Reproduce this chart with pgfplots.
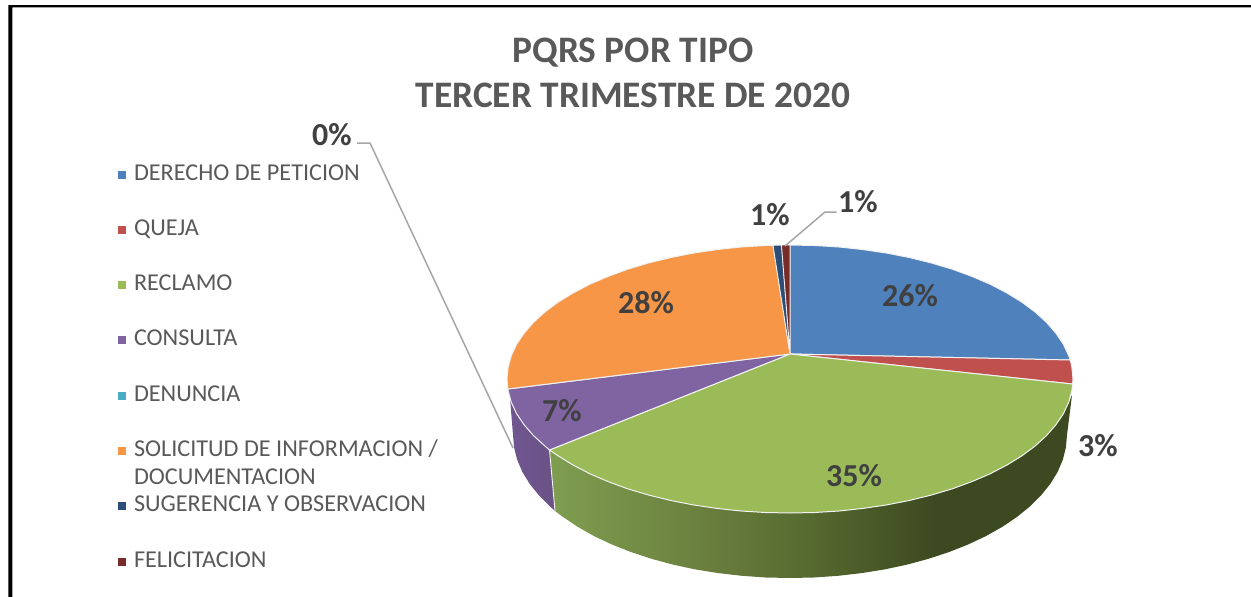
\documentclass[border=0pt]{standalone}
\usepackage{fontspec}
\setmainfont{Carlito}
\usepackage{pgfplots}
\pgfplotsset{compat=1.18}
\definecolor{cBlue}{HTML}{4F81BD}
\definecolor{cRed}{HTML}{C0504D}
\definecolor{cGreen}{HTML}{9BBB59}
\definecolor{cPurple}{HTML}{8064A2}
\definecolor{cTeal}{HTML}{4BACC6}
\definecolor{cOrange}{HTML}{F79646}
\definecolor{cNavy}{HTML}{2C4D75}
\definecolor{cMaroon}{HTML}{772C2A}
\definecolor{titleGrey}{HTML}{595959}
\definecolor{labelGrey}{HTML}{404040}
\definecolor{leaderGrey}{HTML}{A6A6A6}
\definecolor{edge}{HTML}{F2F2F2}
\definecolor{sideA}{HTML}{7F9E50}
\definecolor{sideB}{HTML}{6A7F3E}
\definecolor{sideC}{HTML}{56692F}
\definecolor{sideD}{HTML}{3D4921}
\definecolor{purpA}{HTML}{6F5690}
\definecolor{purpB}{HTML}{6A5285}
\pgfdeclarehorizontalshading{greenside}{100bp}{color(0bp)=(sideA);
  color(25bp)=(sideA); color(40bp)=(sideB); color(50bp)=(sideC); color(62bp)=(sideD); color(100bp)=(sideD)}
\pgfdeclarehorizontalshading{purpleside}{100bp}{color(0bp)=(purpA);
  color(25bp)=(purpA); color(75bp)=(purpB); color(100bp)=(purpB)}
\newcommand{\ttl}{\fontsize{37.4}{45}\selectfont\bfseries\color{titleGrey}}
\newcommand{\lab}{\fontsize{32}{34}\selectfont\bfseries\color{labelGrey}}
\begin{document}
\begin{tikzpicture}
\begin{axis}[
  scale only axis, width=1251pt, height=597pt,
  xmin=0, xmax=1251, ymin=0, ymax=597, y dir=reverse,
  hide axis,
  legend style={at={(axis cs:118,163)},anchor=north west,draw=none,fill=none,inner sep=0pt,outer sep=0pt,
    font=\fontsize{24.2}{26}\selectfont\color{titleGrey},
    row sep=32.3pt,column sep=8pt,
    nodes={inner sep=0pt,text height=17pt,text depth=6pt}},
  legend cell align={left},
  legend image code/.code={\fill[#1,draw=none] (0pt,-4pt) rectangle (8pt,4pt);},
]
% keeps the page at the full axis size
\addplot[draw=none,forget plot] coordinates {(0,0) (1251,597)};
% frame
\addplot[fill=black,draw=none,forget plot] coordinates {(8.3,5) (1251,5) (1251,7.3) (12.3,7.3) (12.3,597) (8.3,597)} -- cycle;
% side walls
\addplot[shading=greenside,draw=none,forget plot] coordinates {
  (1072,395) (1068.7,402.3) (1063.4,413.7) (1055.9,424.8) (1046.5,435.6) (1035.1,446) (1021.8,455.9) (1006.8,465.1)
  (990.1,473.8) (971.9,481.6) (952.3,488.8) (931.5,495) (909.6,500.4) (886.8,504.9) (863.2,508.4) (839.1,511)
  (814.7,512.5) (790,513) (765.3,512.5) (740.9,511) (716.8,508.4) (693.2,504.9) (670.4,500.4) (648.5,495)
  (627.7,488.8) (608.1,481.6) (589.9,473.8) (573.2,465.1) (558.2,455.9) (549.5,450)
  (555,511) (563.1,517) (577.8,526.9) (594.1,536.1) (611.9,544.5) (631.1,552.1) (651.5,558.8) (672.9,564.6)
  (695.3,569.4) (718.3,573.1) (741.9,575.8) (765.9,577.5) (790,578) (814.1,577.5) (838.1,575.8) (861.7,573.1)
  (884.7,569.4) (907.1,564.6) (928.5,558.8) (948.9,552.1) (968.1,544.5) (985.9,536.1) (1002.2,526.9) (1016.9,517)
  (1029.9,506.5) (1041,495.4) (1050.3,483.9) (1057.6,472) (1062.8,459.8) (1065.9,447.5) (1067,435)
} -- cycle;
\addplot[shading=purpleside,draw=none,forget plot] coordinates {
  (549.5,450) (544.9,446) (533.5,435.6) (524.1,424.8) (516.6,413.7) (511.3,402.3) (510,398)
  (513,435) (514.1,447.5) (517.2,459.8) (522.4,472) (529.7,483.9) (539,495.4) (550.1,506.5) (555,511)
} -- cycle;
\addplot[edge,line width=0.9pt,forget plot] coordinates {(549.5,450) (555,511)};
% top wedges, legend order
\addplot[fill=cBlue,draw=edge,line width=1pt] coordinates {
  (790,354) (790,245) (814.7,245.5) (839.1,247) (863.2,249.6) (886.8,253.1) (909.6,257.6) (931.5,263) (952.3,269.2)
  (971.9,276.4) (990.1,284.2) (1006.8,292.9) (1021.8,302.1) (1035.1,312) (1046.5,322.4) (1055.9,333.2) (1063.4,344.3)
  (1068.7,355.7) (1070.3,360)
} -- cycle;
\addlegendentry{DERECHO DE PETICION}
\addplot[fill=cRed,draw=edge,line width=1pt] coordinates {
  (790,354) (1070.3,360) (1071.9,367.3) (1073,379) (1072.6,384)
} -- cycle;
\addlegendentry{QUEJA}
\addplot[fill=cGreen,draw=edge,line width=1pt] coordinates {
  (790,354) (1072.6,384) (1071.9,390.7) (1068.7,402.3) (1063.4,413.7) (1055.9,424.8) (1046.5,435.6) (1035.1,446)
  (1021.8,455.9) (1006.8,465.1) (990.1,473.8) (971.9,481.6) (952.3,488.8) (931.5,495) (909.6,500.4) (886.8,504.9)
  (863.2,508.4) (839.1,511) (814.7,512.5) (790,513) (765.3,512.5) (740.9,511) (716.8,508.4) (693.2,504.9)
  (670.4,500.4) (648.5,495) (627.7,488.8) (608.1,481.6) (589.9,473.8) (573.2,465.1) (558.2,455.9) (549.5,450)
} -- cycle;
\addlegendentry{RECLAMO}
\addplot[fill=cPurple,draw=edge,line width=1pt] coordinates {
  (790,354) (549.5,450) (544.9,446) (533.5,435.6) (524.1,424.8) (516.6,413.7) (511.3,402.3) (508.1,390.7) (507.9,389)
} -- cycle;
\addlegendentry{CONSULTA}
% DENUNCIA is 0%, nothing to see on the pie
\addplot[fill=cTeal,draw=none] coordinates {(790,354) (507.9,389) (507.9,389)} -- cycle;
\addlegendentry{DENUNCIA}
\addplot[fill=cOrange,draw=edge,line width=1pt] coordinates {
  (790,354) (507.9,389) (507,379) (508.1,367.3) (511.3,355.7) (516.6,344.3) (524.1,333.2) (533.5,322.4) (544.9,312)
  (558.2,302.1) (573.2,292.9) (589.9,284.2) (608.1,276.4) (627.7,269.2) (648.5,263) (670.4,257.6) (693.2,253.1)
  (716.8,249.6) (740.9,247) (765.3,245.5) (773,245.3)
} -- cycle;
\addlegendentry{\smash{\parbox[t]{330pt}{\baselineskip=28pt SOLICITUD DE INFORMACION /\\DOCUMENTACION}}}
\addplot[fill=cNavy,draw=edge,line width=0.8pt] coordinates {(790,354) (773,245.3) (781.5,245.1)} -- cycle;
\addlegendentry{SUGERENCIA Y OBSERVACION}
\addplot[fill=cMaroon,draw=edge,line width=0.8pt] coordinates {(790,354) (781.5,245.1) (790,245)} -- cycle;
\addlegendentry{FELICITACION}
% leader lines
\addplot[leaderGrey,line width=1.5pt,forget plot] coordinates {(357,143) (370,143) (513,448)};
\addplot[leaderGrey,line width=1.5pt,forget plot] coordinates {(785,246) (825,212) (836.5,212)};
% title and data labels
\node[align=center,font=\ttl] at (axis cs:633,73) {PQRS POR TIPO\\TERCER TRIMESTRE DE 2020};
\node[font=\lab] at (axis cs:910,296) {26\%};
\node[font=\lab] at (axis cs:1098,446) {3\%};
\node[font=\lab] at (axis cs:854,476) {35\%};
\node[font=\lab] at (axis cs:562,411) {7\%};
\node[font=\lab] at (axis cs:332,135) {0\%};
\node[font=\lab] at (axis cs:646,303) {28\%};
\node[font=\lab] at (axis cs:770,215) {1\%};
\node[font=\lab] at (axis cs:858,202) {1\%};
\end{axis}
\end{tikzpicture}
\end{document}
